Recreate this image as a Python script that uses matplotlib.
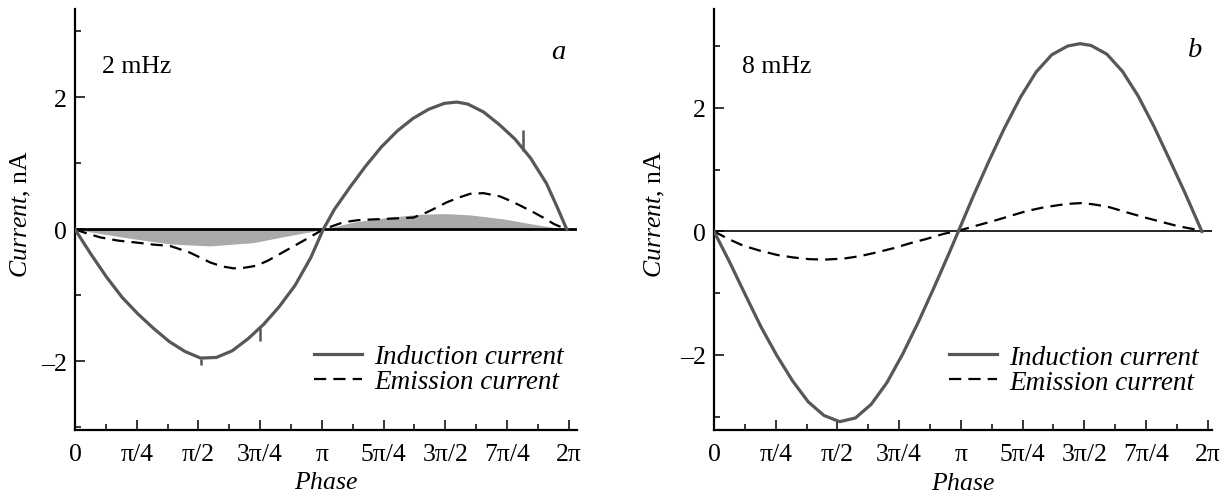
import matplotlib
matplotlib.use("Agg")
import matplotlib.pyplot as plt
import numpy as np

# panel a (2 mHz)
phase_ind_a = [0.0, 0.2, 0.4, 0.6, 0.8, 1.0, 1.2, 1.4, 1.6, 1.8, 2.0, 2.2, 2.4, 2.6, 2.8, 3.0,
               3.16, 3.3, 3.5, 3.7, 3.9, 4.1, 4.3, 4.5, 4.7, 4.86, 5.0, 5.2, 5.4, 5.6, 5.8, 6.0,
               6.13, 6.26]
ind_a = [0.0, -0.37, -0.72, -1.03, -1.28, -1.50, -1.70, -1.85, -1.95, -1.94, -1.84, -1.66, -1.44,
         -1.17, -0.85, -0.43, 0.0, 0.30, 0.64, 0.96, 1.25, 1.49, 1.68, 1.82, 1.91, 1.93, 1.90,
         1.78, 1.59, 1.37, 1.08, 0.70, 0.36, 0.0]
phase_em_a = [0.0, 0.15, 0.32, 0.55, 0.79, 1.00, 1.21, 1.46, 1.60, 1.72, 1.87, 2.02, 2.16, 2.31,
              2.46, 2.61, 2.76, 2.91, 3.16, 3.30, 3.42, 3.60, 3.76, 4.05, 4.31, 4.48, 4.60, 4.73,
              4.88, 5.03, 5.20, 5.41, 5.55, 5.67, 5.82, 5.96, 6.10, 6.26]
em_a = [0.0, -0.06, -0.12, -0.17, -0.20, -0.23, -0.25, -0.35, -0.43, -0.50, -0.56, -0.59, -0.58,
        -0.55, -0.47, -0.37, -0.27, -0.17, 0.0, 0.06, 0.11, 0.14, 0.15, 0.165, 0.18, 0.26, 0.33,
        0.41, 0.48, 0.54, 0.55, 0.50, 0.43, 0.36, 0.27, 0.18, 0.08, 0.0]
phase_fill_a = [0.0, 0.36, 0.79, 1.21, 1.72, 2.27, 2.70, 3.16, 3.54, 3.97, 4.39, 4.73, 5.03,
                5.45, 5.88, 6.26]
fill_a = [0.0, -0.07, -0.15, -0.22, -0.25, -0.20, -0.10, 0.0, 0.11, 0.18, 0.23, 0.24, 0.22,
          0.16, 0.07, 0.0]
glitch_x = [1.60, 2.36, 5.70]
glitch_lo = [-2.06, -1.69, 1.19]
glitch_hi = [-1.96, -1.49, 1.50]

# panel b (8 mHz)
phase_ind_b = [0.0, 0.2, 0.4, 0.6, 0.8, 1.0, 1.2, 1.4, 1.6, 1.8, 2.0, 2.2, 2.4, 2.6, 2.8, 3.0,
               3.11, 3.3, 3.5, 3.7, 3.9, 4.1, 4.3, 4.5, 4.66, 4.8, 5.0, 5.2, 5.4, 5.6, 5.8, 6.0,
               6.21]
ind_b = [0.0, -0.50, -1.03, -1.55, -2.01, -2.42, -2.76, -2.98, -3.08, -3.02, -2.80, -2.45, -1.99,
         -1.47, -0.91, -0.33, 0.0, 0.57, 1.14, 1.68, 2.17, 2.58, 2.86, 3.00, 3.04, 3.01, 2.87,
         2.59, 2.19, 1.70, 1.16, 0.61, 0.0]
phase_em_b = [0.0, 0.18, 0.37, 0.58, 0.80, 1.00, 1.22, 1.43, 1.65, 1.86, 2.07, 2.29, 2.50, 2.71,
              2.92, 3.11, 3.33, 3.56, 3.77, 3.98, 4.20, 4.41, 4.55, 4.70, 4.87, 5.04, 5.25, 5.47,
              5.68, 5.89, 6.05, 6.21]
em_b = [0.0, -0.12, -0.23, -0.31, -0.38, -0.42, -0.45, -0.455, -0.44, -0.40, -0.34, -0.27, -0.19,
        -0.12, -0.04, 0.01, 0.09, 0.17, 0.25, 0.33, 0.39, 0.43, 0.45, 0.46, 0.43, 0.39, 0.31, 0.23,
        0.16, 0.09, 0.05, 0.01]

xtick_labels = ["0", "π/4", "π/2", "3π/4", "π", "5π/4", "3π/2", "7π/4", "2π"]
ytick_labels = ["–2", "0", "2"]

plt.rcParams["font.family"] = ["Liberation Serif", "DejaVu Serif"]
plt.rcParams["mathtext.fontset"] = "custom"
plt.rcParams["mathtext.it"] = "Liberation Serif:italic"
plt.rcParams["mathtext.rm"] = "Liberation Serif"

fig = plt.figure(figsize=(12.3, 5.02), dpi=100)
ax_a = fig.add_axes([0.061, 0.1414, 0.4079, 0.8386])
ax_b = fig.add_axes([0.5805, 0.1408, 0.4046, 0.8392])

ind_color = "#575757"
fs = 18.5


def style_axes(ax, ylim, xmax, zero_lw):
    ax.axhline(0, color="black", lw=zero_lw, zorder=1)
    ax.set_xlim(0, xmax)
    ax.set_ylim(*ylim)
    for s in ["top", "right"]:
        ax.spines[s].set_visible(False)
    for s in ["left", "bottom"]:
        ax.spines[s].set_linewidth(1.6)
    ax.set_xticks(np.arange(9) * np.pi / 4)
    ax.set_xticklabels(xtick_labels, fontsize=fs)
    ax.set_xticks(np.arange(1, 16, 2) * np.pi / 8, minor=True)
    ax.set_yticks([-2, 0, 2])
    ax.set_yticklabels(ytick_labels, fontsize=fs)
    ax.set_yticks([-3, -1, 1, 3], minor=True)
    ax.tick_params(which="major", direction="in", length=7, width=1.1, pad=6)
    ax.tick_params(which="minor", direction="in", length=4.5, width=1.1)
    ax.tick_params(axis="x", which="major", pad=9)
    ax.set_xlabel(r"$\mathit{Phase}$", fontsize=fs, labelpad=5)
    ax.set_ylabel(r"$\mathit{Current}$, nA", fontsize=fs)
    ax.legend(loc="lower right", bbox_to_anchor=(0.975, 0.085), frameon=False,
              handlelength=1.8, handletextpad=0.45, labelspacing=0.0,
              borderpad=0, borderaxespad=0, prop={"style": "italic", "size": 19.5})


# panel a
ax_a.fill_between(phase_fill_a, fill_a, 0, color="#aaaaaa", lw=0, zorder=0.5)
ax_a.plot(phase_ind_a, ind_a, color=ind_color, lw=2.3, label="Induction current", zorder=3,
          solid_joinstyle="round")
ax_a.plot(phase_em_a, em_a, color="black", lw=1.6, dashes=(5.5, 3.2), label="Emission current", zorder=2)
ax_a.vlines(glitch_x, glitch_lo, glitch_hi, color=ind_color, lw=1.8, zorder=3)
style_axes(ax_a, (-3.04, 3.34), 6.387, 2.0)
ax_a.yaxis.set_label_coords(-0.084, 0.515)
ax_a.text(0.054, 0.865, "2 mHz", transform=ax_a.transAxes, fontsize=fs, va="center", ha="left")
ax_a.text(0.963, 0.90, "a", transform=ax_a.transAxes, fontsize=fs + 2, style="italic",
          va="center", ha="center")

# panel b
ax_b.plot(phase_ind_b, ind_b, color=ind_color, lw=2.3, label="Induction current", zorder=3,
          solid_joinstyle="round")
ax_b.plot(phase_em_b, em_b, color="black", lw=1.6, dashes=(5.5, 3.2), label="Emission current", zorder=2)
style_axes(ax_b, (-3.22, 3.60), 6.335, 1.2)
ax_b.yaxis.set_label_coords(-0.094, 0.515)
ax_b.text(0.056, 0.865, "8 mHz", transform=ax_b.transAxes, fontsize=fs, va="center", ha="left")
ax_b.text(0.966, 0.905, "b", transform=ax_b.transAxes, fontsize=fs + 2, style="italic",
          va="center", ha="center")

fig.savefig("out.png", dpi=100)
